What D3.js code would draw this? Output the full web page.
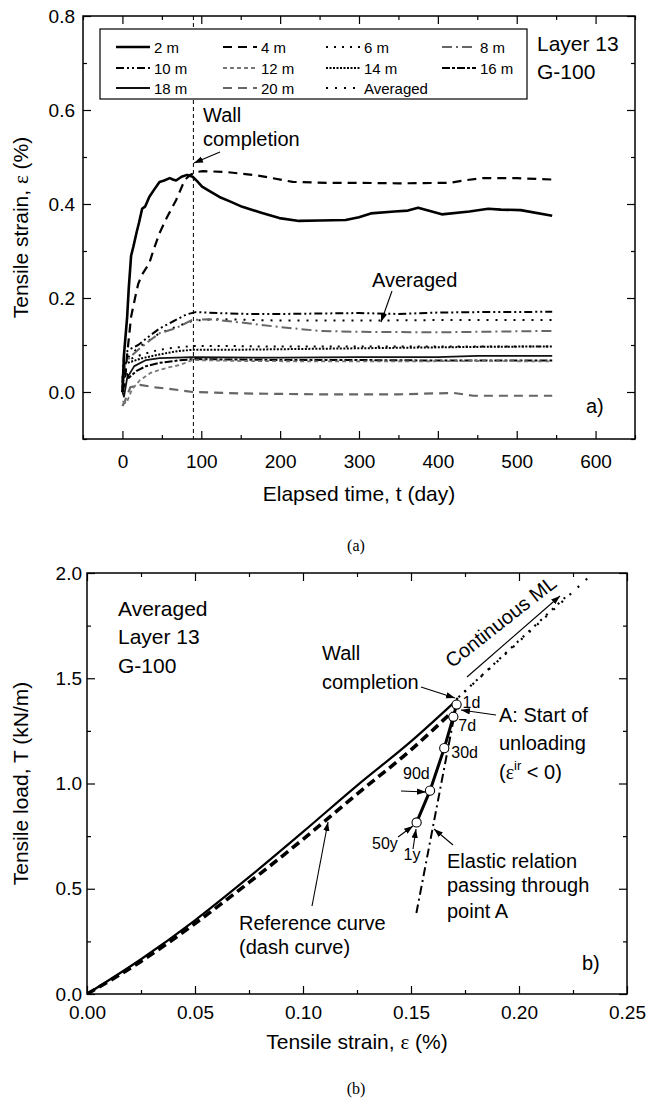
<!DOCTYPE html>
<html>
<head>
<meta charset="utf-8">
<script src="https://cdn.jsdelivr.net/npm/d3@7"></script>
<style>
body{margin:0;background:#fff;}
svg text{font-family:"Liberation Sans",Arial,sans-serif;fill:#000;}
</style>
</head>
<body>
<svg id="fig" width="646" height="1102"></svg>
<script>
// ---------- (a) tensile strain (%) vs elapsed time (day), one array per gauge
var strain2m = [[0,0.0],[2,0.08],[4,0.12],[6,0.16],[8,0.22],[11,0.29],[14,0.31],[18,0.34],[21,0.36],[25,0.39],[29,0.395],[34,0.415],[40,0.43],[47,0.447],[53,0.45],[60,0.455],[64,0.452],[68,0.45],[75,0.458],[82,0.462],[89,0.458],[95,0.448],[101,0.437],[110,0.428],[123,0.415],[137,0.405],[152,0.394],[175,0.382],[199,0.37],[224,0.364],[250,0.365],[283,0.366],[300,0.372],[315,0.38],[345,0.384],[362,0.386],[375,0.392],[405,0.378],[440,0.384],[464,0.39],[480,0.388],[505,0.387],[545,0.375]];
var strain4m = [[0,0.0],[3,0.02],[6,0.08],[11,0.16],[16,0.2],[20,0.23],[25,0.25],[34,0.274],[40,0.305],[47,0.338],[56,0.37],[68,0.408],[79,0.451],[86,0.462],[94,0.468],[102,0.47],[132,0.468],[174,0.46],[216,0.447],[260,0.445],[300,0.445],[350,0.444],[415,0.445],[437,0.451],[457,0.455],[500,0.455],[545,0.452]];
var strain6m = [[0,0.01],[3,0.06],[10,0.07],[25,0.08],[47,0.09],[70,0.095],[90,0.098],[130,0.098],[170,0.097],[250,0.097],[350,0.097],[450,0.097],[545,0.097]];
var strain8m = [[0,0.0],[3,0.06],[10,0.075],[20,0.09],[35,0.11],[47,0.125],[68,0.136],[88,0.153],[110,0.155],[150,0.148],[200,0.138],[250,0.13],[300,0.128],[400,0.127],[450,0.128],[545,0.13]];
var strain10m = [[0,0.02],[2,0.08],[8,0.09],[20,0.1],[35,0.12],[47,0.135],[64,0.15],[81,0.165],[93,0.17],[120,0.168],[160,0.166],[200,0.166],[250,0.167],[300,0.168],[350,0.166],[400,0.169],[450,0.17],[500,0.17],[545,0.171]];
var strain12m = [[0,-0.02],[5,-0.024],[12,0.005],[22,0.025],[35,0.04],[47,0.047],[60,0.053],[72,0.057],[89,0.068],[150,0.066],[250,0.065],[350,0.065],[450,0.066],[545,0.065]];
var strain14m = [[0,0.0],[3,0.06],[12,0.065],[25,0.072],[47,0.08],[70,0.087],[90,0.09],[150,0.09],[250,0.092],[350,0.094],[450,0.096],[545,0.097]];
var strain16m = [[0,0.03],[3,0.05],[8,0.03],[18,0.045],[30,0.055],[47,0.062],[70,0.067],[90,0.07],[200,0.068],[300,0.068],[400,0.067],[545,0.067]];
var strain18m = [[0,0.0],[2,-0.01],[6,0.03],[15,0.055],[30,0.068],[47,0.072],[90,0.074],[200,0.073],[300,0.074],[400,0.074],[450,0.077],[545,0.077]];
var strain20m = [[0,-0.03],[3,-0.02],[10,0.01],[22,0.015],[42,0.01],[72,0.004],[89,0.0],[150,-0.003],[250,-0.005],[350,-0.005],[420,-0.002],[445,-0.008],[545,-0.008]];
var strainAvg = [[0,0.0],[2,0.06],[10,0.08],[25,0.1],[47,0.125],[70,0.14],[90,0.152],[120,0.155],[200,0.152],[300,0.152],[400,0.153],[545,0.153]];
var legendNames = ["2 m","4 m","6 m","8 m","10 m","12 m","14 m","16 m","18 m","20 m","Averaged"];
var wallDay = 90;
var timeTicks = [0,100,200,300,400,500,600];
var timeMinor = [-50,50,150,250,350,450,550,650];
var strainTicks = [0.0,0.2,0.4,0.6,0.8];
var strainMinor = [-0.1,0.1,0.3,0.5,0.7];

// ---------- (b) tensile load (kN/m) vs tensile strain (%)
var refStrain = [0,0.025,0.05,0.075,0.1,0.125,0.15,0.169];
var refLoad   = [0,0.155,0.335,0.53,0.735,0.95,0.16+1.0,1.34];
var measStrain = [0,0.025,0.05,0.075,0.1,0.125,0.15,0.171];
var measLoad   = [0,0.165,0.35,0.555,0.77,0.99,1.2,1.395];
var unloadStrain = [0.1711,0.1696,0.1654,0.1588,0.1526];
var unloadLoad   = [1.375,1.317,1.168,0.966,0.815];
var unloadLabels = ["1d","7d","30d","90d","1y"];
var mlUpper = [[0.171,1.40],[0.2365,2.02]];
var mlLower = [[0.172,1.41],[0.222,1.89]];
var elastic = [[0.1715,1.40],[0.1525,0.385]];
var epsTicks = [0,0.05,0.10,0.15,0.20,0.25];
var epsMinor = [0.025,0.075,0.125,0.175,0.225];
var loadTicks = [0,0.5,1.0,1.5,2.0];
var loadMinor = [0.25,0.75,1.25,1.75];

var svg = d3.select("#fig");
svg.append("rect").attr("width",646).attr("height",1102).attr("fill","#fff");

var defs = svg.append("defs");
defs.append("marker").attr("id","arr")
  .attr("viewBox","0 0 10 10").attr("refX",10).attr("refY",5)
  .attr("markerWidth",9).attr("markerHeight",9)
  .attr("markerUnits","userSpaceOnUse").attr("orient","auto")
  .append("path").attr("d","M0,1.5 L10,5 L0,8.5 Z").attr("fill","#000");

function arrow(g, x1, y1, x2, y2){
  g.append("line").attr("x1",x1).attr("y1",y1).attr("x2",x2).attr("y2",y2)
    .attr("stroke","#000").attr("stroke-width",1.1).attr("marker-end","url(#arr)");
}

function label(g, x, y, txt, size){
  return g.append("text").attr("x",x).attr("y",y).attr("font-size",size||20).text(txt);
}

// frame with inward ticks on all four sides
function drawFrame(g, x, y, opt){
  var w = x.range()[1], h = y.range()[0];
  function style(a){
    a.select(".domain").remove();
    a.selectAll(".tick line").attr("stroke","#000").attr("stroke-width",1.2);
    a.selectAll(".tick text").attr("font-size",19).attr("font-family","Liberation Sans, Arial, sans-serif");
  }
  g.append("g").attr("transform","translate(0,"+h+")")
    .call(d3.axisBottom(x).tickValues(opt.xt).tickFormat(opt.xf).tickSize(-8).tickPadding(opt.px)).call(style);
  g.append("g").attr("transform","translate(0,"+h+")")
    .call(d3.axisBottom(x).tickValues(opt.xm).tickFormat("").tickSize(-4)).call(style);
  g.append("g")
    .call(d3.axisTop(x).tickValues(opt.xt).tickFormat("").tickSize(-8)).call(style);
  g.append("g")
    .call(d3.axisTop(x).tickValues(opt.xm).tickFormat("").tickSize(-4)).call(style);
  g.append("g")
    .call(d3.axisLeft(y).tickValues(opt.yt).tickFormat(opt.yf).tickSize(-8).tickPadding(opt.py)).call(style);
  g.append("g")
    .call(d3.axisLeft(y).tickValues(opt.ym).tickFormat("").tickSize(-4)).call(style);
  g.append("g").attr("transform","translate("+w+",0)")
    .call(d3.axisRight(y).tickValues(opt.yt).tickFormat("").tickSize(-8)).call(style);
  g.append("g").attr("transform","translate("+w+",0)")
    .call(d3.axisRight(y).tickValues(opt.ym).tickFormat("").tickSize(-4)).call(style);
  g.append("rect").attr("width",w).attr("height",h)
    .attr("fill","none").attr("stroke","#000").attr("stroke-width",1.5);
}

// ================= chart (a)
var mA = {left:83, top:16}, wA = 552, hA = 423;
var gA = svg.append("g").attr("transform","translate("+mA.left+","+mA.top+")");
var xA = d3.scaleLinear().domain([-50,650]).range([0,wA]);
var yA = d3.scaleLinear().domain([-0.1,0.8]).range([hA,0]);

defs.append("clipPath").attr("id","clipA").append("rect").attr("width",wA).attr("height",hA);

var seriesA = {
  "2 m": strain2m, "4 m": strain4m, "6 m": strain6m, "8 m": strain8m,
  "10 m": strain10m, "12 m": strain12m, "14 m": strain14m, "16 m": strain16m,
  "18 m": strain18m, "20 m": strain20m, "Averaged": strainAvg
};
var styleA = {
  "2 m":     {c:"#000", w:2.6, d:null},
  "4 m":     {c:"#000", w:2.2, d:"9,6"},
  "6 m":     {c:"#000", w:2,   d:"2,6"},
  "8 m":     {c:"#666", w:2,   d:"10,4,2,4"},
  "10 m":    {c:"#000", w:2,   d:"8,3,2,3,2,3"},
  "12 m":    {c:"#777", w:1.8, d:"4,3"},
  "14 m":    {c:"#000", w:2,   d:"2,1.5"},
  "16 m":    {c:"#000", w:2,   d:"8,2,3,2"},
  "18 m":    {c:"#111", w:1.8, d:null},
  "20 m":    {c:"#666", w:2.2, d:"9,6"},
  "Averaged":{c:"#000", w:2,   d:"2,7"}
};

var lineA = d3.line().x(function(d){ return xA(d[0]); }).y(function(d){ return yA(d[1]); });
var plotA = gA.append("g").attr("clip-path","url(#clipA)");
legendNames.slice().reverse().forEach(function(k){
  var s = styleA[k];
  plotA.append("path").datum(seriesA[k]).attr("d",lineA)
    .attr("fill","none").attr("stroke",s.c).attr("stroke-width",s.w)
    .attr("stroke-dasharray",s.d).attr("stroke-linejoin","round");
});

// wall completion marker line
gA.append("line").attr("x1",xA(wallDay)).attr("x2",xA(wallDay))
  .attr("y1",0).attr("y2",hA).attr("stroke","#000").attr("stroke-width",1)
  .attr("stroke-dasharray","4,3");

drawFrame(gA, xA, yA, {xt:timeTicks, xm:timeMinor, xf:d3.format("d"), px:16,
                       yt:strainTicks, ym:strainMinor, yf:d3.format(".1f"), py:8});

// legend box
var legX = [116,223,326,442];
var legY = [47,68,88];
var leg = svg.append("g");
leg.append("rect").attr("x",100).attr("y",29).attr("width",427).attr("height",70)
  .attr("fill","#fff").attr("stroke","#000").attr("stroke-width",1.2);
legendNames.forEach(function(k,i){
  var s = styleA[k], lx = legX[i%4], ly = legY[Math.floor(i/4)];
  leg.append("line").attr("x1",lx).attr("x2",lx+34).attr("y1",ly).attr("y2",ly)
    .attr("stroke",s.c).attr("stroke-width",s.w).attr("stroke-dasharray",s.d);
  leg.append("text").attr("x",lx+38).attr("y",ly+5.5).attr("font-size",15).text(k);
});

label(svg,537,51,"Layer 13",21);
label(svg,537,79,"G-100",21);
label(svg,203,122,"Wall",20);
label(svg,203,146,"completion",20);
arrow(svg,220,152,194,163);
label(svg,372,287,"Averaged",20);
arrow(svg,392,291,381,322);
label(svg,586,413,"a)",20);

svg.append("text").attr("x",mA.left+wA/2).attr("y",mA.top+hA+62)
  .attr("text-anchor","middle").attr("font-size",21).text("Elapsed time, t (day)");
var ytA = svg.append("text").attr("transform","translate(28,"+(mA.top+hA/2)+") rotate(-90)")
  .attr("text-anchor","middle").attr("font-size",21);
ytA.append("tspan").text("Tensile strain, ");
ytA.append("tspan").attr("font-family","Liberation Serif, serif").text("ε");
ytA.append("tspan").text(" (%)");

svg.append("text").attr("x",356).attr("y",551).attr("text-anchor","middle")
  .attr("font-size",16).style("font-family","Liberation Serif, serif").text("(a)");

// ================= chart (b)
var mB = {left:87, top:573}, wB = 540, hB = 421;
var gB = svg.append("g").attr("transform","translate("+mB.left+","+mB.top+")");
var xB = d3.scaleLinear().domain([0,0.25]).range([0,wB]);
var yB = d3.scaleLinear().domain([0,2.0]).range([hB,0]);
defs.append("clipPath").attr("id","clipB").append("rect").attr("width",wB).attr("height",hB);

var lineB = d3.line().x(function(d){ return xB(d[0]); }).y(function(d){ return yB(d[1]); });
var plotB = gB.append("g").attr("clip-path","url(#clipB)");

var refPts = refStrain.map(function(e,i){ return [e, refLoad[i]]; });
var measPts = measStrain.map(function(e,i){ return [e, measLoad[i]]; });
var unloadPts = unloadStrain.map(function(e,i){ return [e, unloadLoad[i]]; });

plotB.append("path").datum(mlUpper).attr("d",lineB).attr("fill","none")
  .attr("stroke","#000").attr("stroke-width",2.2).attr("stroke-dasharray","2,9");
plotB.append("path").datum(mlLower).attr("d",lineB).attr("fill","none")
  .attr("stroke","#000").attr("stroke-width",2.2).attr("stroke-dasharray","2,6");
plotB.append("path").datum(elastic).attr("d",lineB).attr("fill","none")
  .attr("stroke","#000").attr("stroke-width",2).attr("stroke-dasharray","9,4,2,4");
plotB.append("path").datum(refPts).attr("d",d3.line().curve(d3.curveMonotoneX)
    .x(function(d){ return xB(d[0]); }).y(function(d){ return yB(d[1]); }))
  .attr("fill","none").attr("stroke","#000").attr("stroke-width",3.6).attr("stroke-dasharray","9,5");
plotB.append("path").datum(measPts).attr("d",d3.line().curve(d3.curveMonotoneX)
    .x(function(d){ return xB(d[0]); }).y(function(d){ return yB(d[1]); }))
  .attr("fill","none").attr("stroke","#000").attr("stroke-width",2.2);
plotB.append("path").datum([measPts[measPts.length-1]].concat(unloadPts)).attr("d",lineB)
  .attr("fill","none").attr("stroke","#000").attr("stroke-width",3);
plotB.selectAll("circle").data(unloadPts).enter().append("circle")
  .attr("cx",function(d){ return xB(d[0]); }).attr("cy",function(d){ return yB(d[1]); })
  .attr("r",4.6).attr("fill","#fff").attr("stroke","#000").attr("stroke-width",1.1);

drawFrame(gB, xB, yB, {xt:epsTicks, xm:epsMinor, xf:d3.format(".2f"), px:12,
                       yt:loadTicks, ym:loadMinor, yf:d3.format(".1f"), py:5});

// labels of the unloading points
var lblOff = [[6,3],[5,14],[7,10],[-27,-12],[-13,38]];
unloadPts.forEach(function(d,i){
  label(svg, mB.left+xB(d[0])+lblOff[i][0], mB.top+yB(d[1])+lblOff[i][1], unloadLabels[i], 16);
});
label(svg,372,849,"50y",16);
arrow(svg,401,791,426,792);
arrow(svg,398,837,413,826);
arrow(svg,413,849,416,829);

label(svg,118,616,"Averaged",21);
label(svg,118,644,"Layer 13",21);
label(svg,118,673,"G-100",21);
label(svg,322,660,"Wall",20);
label(svg,322,689,"completion",20);
arrow(svg,421,687,455,698);

label(svg,499,722,"A: Start of",20);
label(svg,499,750,"unloading",20);
var epsIr = svg.append("text").attr("x",499).attr("y",779).attr("font-size",20);
epsIr.append("tspan").text("(");
epsIr.append("tspan").attr("font-family","Liberation Serif, serif").text("ε");
epsIr.append("tspan").attr("font-size",13).attr("dy",-9).text("ir");
epsIr.append("tspan").attr("dy",9).text(" < 0)");
arrow(svg,496,715,461,710);

label(svg,447,868,"Elastic relation",20);
label(svg,447,892,"passing through",20);
label(svg,447,918,"point A",20);
arrow(svg,453,845,434,829);

label(svg,239,930,"Reference curve",20);
label(svg,239,954,"(dash curve)",20);
arrow(svg,312,906,328,822);

svg.append("text").attr("transform","translate(505,627) rotate(-38)")
  .attr("text-anchor","middle").attr("font-size",20).text("Continuous ML");
arrow(svg,467,677,560,596);

label(svg,582,970,"b)",20);

svg.append("text").attr("x",mB.left+wB/2).attr("y",mB.top+hB+55)
  .attr("text-anchor","middle").attr("font-size",21).call(function(t){
    t.append("tspan").text("Tensile strain, ");
    t.append("tspan").attr("font-family","Liberation Serif, serif").text("ε");
    t.append("tspan").text(" (%)");
  });
svg.append("text").attr("transform","translate(28,"+(mB.top+hB/2)+") rotate(-90)")
  .attr("text-anchor","middle").attr("font-size",21).text("Tensile load, T (kN/m)");

svg.append("text").attr("x",356).attr("y",1094).attr("text-anchor","middle")
  .attr("font-size",16).style("font-family","Liberation Serif, serif").text("(b)");
</script>
</body>
</html>
